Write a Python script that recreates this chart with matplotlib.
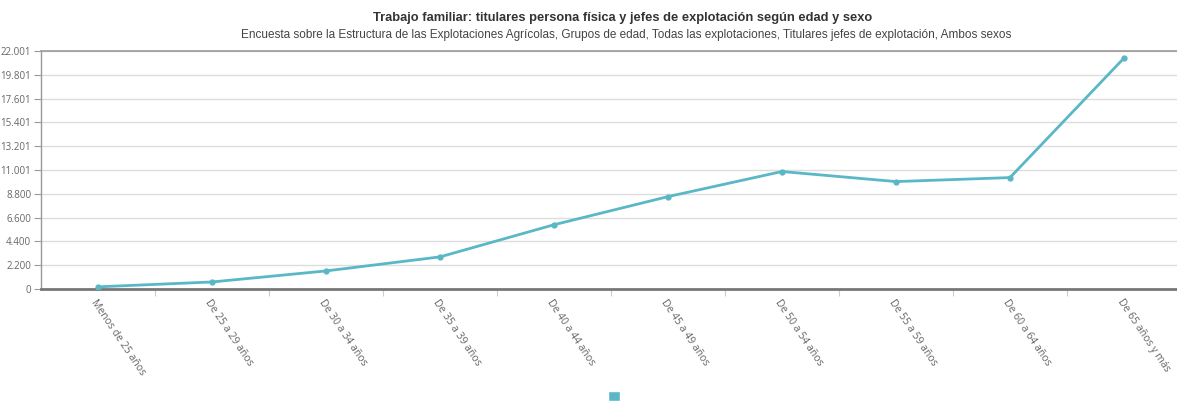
import matplotlib.pyplot as plt
from matplotlib.patches import Patch

# data
categorias = ['Menos de 25 años', 'De 25 a 29 años', 'De 30 a 34 años', 'De 35 a 39 años',
              'De 40 a 44 años', 'De 45 a 49 años', 'De 50 a 54 años', 'De 55 a 59 años',
              'De 60 a 64 años', 'De 65 años y más']
titulares = [200, 650, 1670, 2970, 5940, 8540, 10860, 9930, 10300, 21350]

y_ticks = [0, 2200.1, 4400.2, 6600.3, 8800.4, 11000.5, 13200.6, 15400.7, 17600.8, 19800.9, 22001]
y_labels = ['0', '2.200', '4.400', '6.600', '8.800', '11.001', '13.201', '15.401',
            '17.601', '19.801', '22.001']

titulo = 'Trabajo familiar: titulares persona física y jefes de explotación según edad y sexo'
subtitulo = ('Encuesta sobre la Estructura de las Explotaciones Agrícolas, Grupos de edad, '
             'Todas las explotaciones, Titulares jefes de explotación, Ambos sexos')

color = '#5ab7c6'

fig = plt.figure(figsize=(11.77, 4.03), dpi=100)
ax = fig.add_axes([41 / 1177, 1 - 289 / 403, 1140 / 1177, 238 / 403])

x = range(len(categorias))
ax.plot(x, titulares, color=color, linewidth=2, marker='o', markersize=3.5, zorder=3)

ax.set_xlim(-0.5, len(categorias) - 0.5)
ax.set_ylim(0, 22001)

ax.set_yticks(y_ticks)
ax.set_yticklabels(y_labels, fontsize=7, color='#666666', family='Open Sans')
ax.tick_params(axis='y', length=5, width=0.8, color='#999999', pad=2)
ax.grid(axis='y', color='#dddddd', linewidth=1)
ax.set_axisbelow(True)

# category ticks sit between the bands, labels at the band centres
ax.set_xticks([i - 0.5 for i in range(1, len(categorias))], minor=False)
ax.set_xticklabels([])
ax.tick_params(axis='x', length=5, width=0.8, color='#cccccc', direction='out')
ax.set_xticks(list(x), minor=True)
ax.set_xticklabels(categorias, minor=True, rotation=-56, ha='left', va='top',
                   rotation_mode='anchor', fontsize=7.5, color='#666666', family='Open Sans')
ax.tick_params(axis='x', which='minor', length=0, pad=6)

ax.spines['right'].set_visible(False)
ax.spines['top'].set_color('#999999')
ax.spines['top'].set_linewidth(1.2)
ax.spines['left'].set_color('#999999')
ax.spines['left'].set_linewidth(1)
ax.spines['bottom'].set_color('#777777')
ax.spines['bottom'].set_linewidth(2)

fig.text(623 / 1177, 1 - 18 / 403, titulo, ha='center', va='center', fontsize=9.3,
         fontweight='bold', color='#333333', family='Liberation Sans')
fig.text(626 / 1177, 1 - 35 / 403, subtitulo, ha='center', va='center', fontsize=8.5,
         color='#444444', family='Liberation Sans')

fig.legend(handles=[Patch(facecolor=color, edgecolor='white')], labels=[''],
           loc='center', bbox_to_anchor=(614 / 1177, 1 - 397 / 403), frameon=False,
           handlelength=0.8, handleheight=0.8, handletextpad=0, borderpad=0)

fig.savefig('out.png', dpi=100, facecolor='white')
